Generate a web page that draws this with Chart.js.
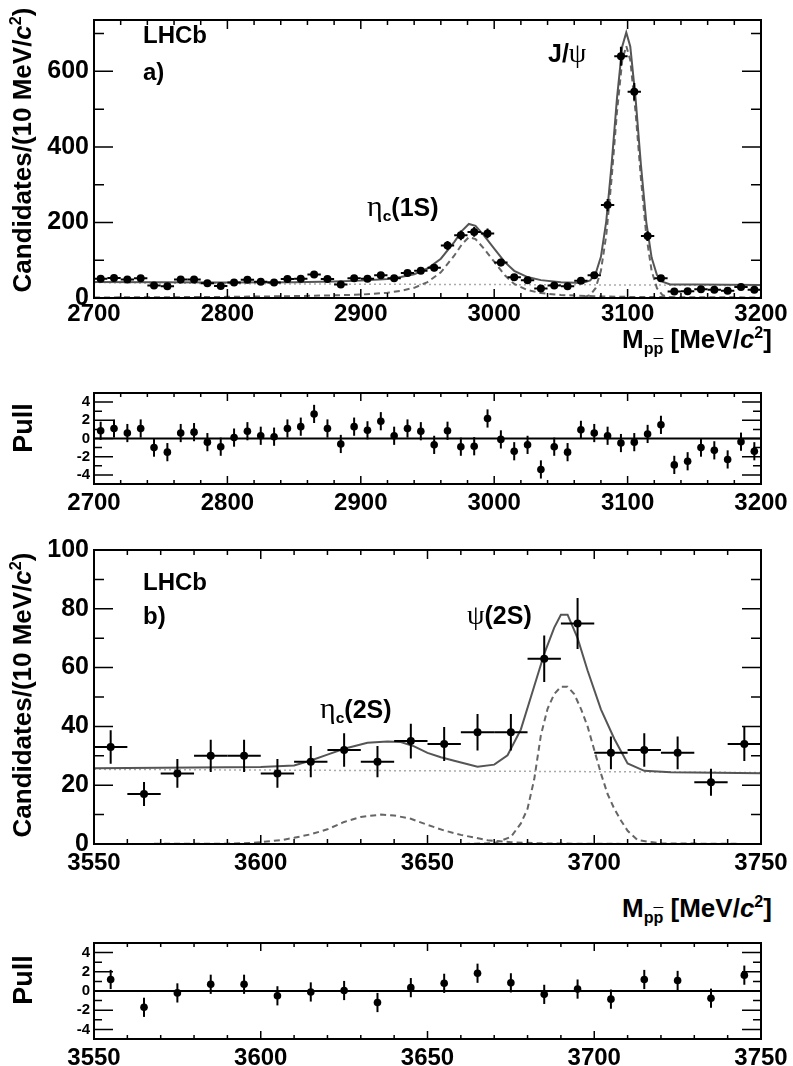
<!DOCTYPE html>
<html>
<head>
<meta charset="UTF-8">
<title>LHCb p pbar mass spectra</title>
<script src="https://cdn.jsdelivr.net/npm/chart.js"></script>
<style>
    body { margin: 0; background: #fff; width: 793px; height: 1066px; position: relative; overflow: hidden;
           font-family: "Liberation Sans", Arial, Helvetica, sans-serif; }
    canvas { position: absolute; left: 0; }
    .t { position: absolute; font-weight: bold; color: #000; white-space: nowrap; line-height: 1; }
    .rot { transform: translate(-50%, -50%) rotate(-90deg); }
    .g { font-family: "Liberation Serif", "DejaVu Serif", serif; font-weight: normal; }
    sub { font-size: 0.62em; vertical-align: -0.35em; line-height: 0; }
    sup { font-size: 0.62em; vertical-align: 0.6em; line-height: 0; }
    .ov { text-decoration: overline; }
</style>
</head>
<body>
    <canvas id="mainA" width="793" height="330" style="top:0px"></canvas>
    <canvas id="pullA" width="793" height="135" style="top:380px"></canvas>
    <canvas id="mainB" width="793" height="345" style="top:530px"></canvas>
    <canvas id="pullB" width="793" height="136" style="top:930px"></canvas>

    <!-- axis titles -->
    <div class="t rot" style="left:22px; top:150px; font-size:26px">Candidates/(10 MeV/<i>c</i><sup>2</sup>)</div>
    <div class="t rot" style="left:23px; top:428px; font-size:27px">Pull</div>
    <div class="t rot" style="left:22px; top:695px; font-size:26px">Candidates/(10 MeV/<i>c</i><sup>2</sup>)</div>
    <div class="t rot" style="left:23px; top:980px; font-size:27px">Pull</div>
    <div class="t" style="right:21px; top:326px; font-size:26px">M<sub>p<span class="ov">p</span></sub> [MeV/<i>c</i><sup>2</sup>]</div>
    <div class="t" style="right:21px; top:895px; font-size:26px">M<sub>p<span class="ov">p</span></sub> [MeV/<i>c</i><sup>2</sup>]</div>

    <!-- panel labels -->
    <div class="t" style="left:143px; top:23px; font-size:24px">LHCb</div>
    <div class="t" style="left:143px; top:60px; font-size:24px">a)</div>
    <div class="t" style="left:367px; top:191px; font-size:25px"><span class="g" style="font-size:30px">&eta;</span><sub>c</sub>(1S)</div>
    <div class="t" style="left:548px; top:39px; font-size:25px">J/<span class="g" style="font-size:28px">&psi;</span></div>
    <div class="t" style="left:143px; top:570px; font-size:24px">LHCb</div>
    <div class="t" style="left:143px; top:604px; font-size:24px">b)</div>
    <div class="t" style="left:320px; top:693px; font-size:25px"><span class="g" style="font-size:30px">&eta;</span><sub>c</sub>(2S)</div>
    <div class="t" style="left:467px; top:601px; font-size:25px"><span class="g" style="font-size:28px">&psi;</span>(2S)</div>

<script>
    // ---- panel a) : 2700-3200 MeV, 10 MeV bins ----
    const massA = [2705, 2715, 2725, 2735, 2745, 2755, 2765, 2775, 2785, 2795,
                   2805, 2815, 2825, 2835, 2845, 2855, 2865, 2875, 2885, 2895,
                   2905, 2915, 2925, 2935, 2945, 2955, 2965, 2975, 2985, 2995,
                   3005, 3015, 3025, 3035, 3045, 3055, 3065, 3075, 3085, 3095,
                   3105, 3115, 3125, 3135, 3145, 3155, 3165, 3175, 3185, 3195];
    const countsA = [51, 53, 49, 52, 33, 31, 49, 49, 39, 32,
                     41, 48, 43, 41, 50, 51, 62, 50, 36, 52,
                     51, 60, 52, 66, 72, 80, 139, 166, 175, 171,
                     94, 55, 47, 25, 33, 31, 46, 60, 246, 640,
                     546, 164, 52, 17, 18, 23, 22, 19, 29, 22];
    const errA = [7, 7, 7, 7, 6, 6, 7, 7, 6, 6,
                  6, 7, 7, 6, 7, 7, 8, 7, 6, 7,
                  7, 8, 7, 8, 8, 9, 12, 13, 13, 13,
                  10, 7, 7, 5, 6, 6, 7, 8, 16, 25,
                  23, 13, 7, 4, 4, 5, 5, 4, 5, 5];
    const pullA = [0.85, 1.1, 0.6, 1.1, -1.0, -1.5, 0.6, 0.7, -0.4, -0.9,
                   0.1, 0.8, 0.3, 0.2, 1.1, 1.3, 2.7, 1.1, -0.6, 1.3,
                   0.9, 1.9, 0.3, 1.1, 0.8, -0.7, 0.85, -0.9, -0.85, 2.2,
                   -0.1, -1.4, -0.7, -3.4, -0.9, -1.5, 0.95, 0.6, 0.3, -0.5,
                   -0.4, 0.5, 1.5, -2.9, -2.5, -1.0, -1.3, -2.3, -0.35, -1.4];

    // fit curves
    const bkgAx = [2700, 2800, 2900, 3000, 3100, 3200];
    const bkgAy = [41, 38, 36.5, 35.5, 34.5, 33];
    const etac1Sx = [2700, 2750, 2800, 2850, 2880, 2900, 2920, 2930, 2940, 2950, 2960, 2970, 2976, 2981,
                     2986, 2992, 3000, 3008, 3015, 3025, 3035, 3050, 3075, 3100, 3150, 3200];
    const etac1Sy = [1.5, 2, 3, 5, 7, 9, 14, 19, 27, 42, 68, 112, 143, 161,
                     156, 132, 96, 60, 37, 21, 13, 8, 4.5, 3, 2, 1.5];
    const jpsiX = [2700, 3050, 3066, 3072, 3076, 3080, 3084, 3088, 3092, 3096, 3099, 3102, 3106,
                   3110, 3114, 3118, 3122, 3126, 3132, 3150, 3200];
    const jpsiY = [0, 0, 0.5, 8, 26, 72, 166, 316, 491, 630, 667, 630, 491,
                   316, 166, 72, 26, 8, 0.5, 0, 0];
    const totalAx = [2700, 2750, 2800, 2850, 2880, 2900, 2920, 2930, 2940, 2950, 2960, 2970, 2976, 2981,
                     2986, 2992, 3000, 3008, 3015, 3025, 3035, 3050, 3066, 3072, 3076, 3080, 3084, 3088,
                     3092, 3096, 3099, 3102, 3106, 3110, 3114, 3118, 3122, 3126, 3132, 3150, 3200];
    const totalAy = [42.5, 41.5, 41, 42, 44, 46, 50.6, 55.4, 63, 78, 104, 148, 178.5, 196,
                     191, 167, 131, 95, 72, 55.5, 47.3, 42, 39.5, 46.4, 64, 109, 203, 353,
                     527, 666, 703, 666, 527, 352, 201, 107, 61, 43, 36, 35.5, 34.5];

    // ---- panel b) : 3550-3750 MeV ----
    const massB = [3555, 3565, 3575, 3585, 3595, 3605, 3615, 3625, 3635, 3645,
                   3655, 3665, 3675, 3685, 3695, 3705, 3715, 3725, 3735, 3745];
    const countsB = [33, 17, 24, 30, 30, 24, 28, 32, 28, 35,
                     34, 38, 38, 63, 75, 31, 32, 31, 21, 34];
    const errB = [5.7, 4.1, 4.9, 5.5, 5.5, 4.9, 5.3, 5.7, 5.3, 5.9,
                  5.8, 6.2, 6.2, 7.9, 8.7, 5.6, 5.7, 5.6, 4.6, 5.8];
    const pullB = [1.2, -1.7, -0.2, 0.7, 0.7, -0.5, -0.1, 0.05, -1.2, 0.35,
                   0.8, 1.85, 0.85, -0.35, 0.2, -0.85, 1.2, 1.1, -0.75, 1.65];

    const bkgBx = [3550, 3650, 3750];
    const bkgBy = [25.4, 24.9, 24.3];
    const etac2Sx = [3550, 3590, 3598, 3606, 3610, 3615, 3620, 3625, 3630, 3636, 3640, 3645, 3650,
                     3655, 3660, 3668, 3675, 3685, 3700, 3750];
    const etac2Sy = [0, 0.1, 0.4, 1.3, 2.1, 3.3, 5, 7.5, 9.2, 10, 9.7, 8.6, 6.5,
                     4.6, 3.1, 1.3, 0.6, 0.2, 0.05, 0];
    const psi2Sx = [3550, 3660, 3670, 3675, 3678, 3680, 3682, 3684, 3686, 3688, 3690, 3692, 3694, 3696,
                    3698, 3700, 3702, 3704, 3706, 3708, 3710, 3713, 3720, 3750];
    const psi2Sy = [0, 0, 0.3, 2.4, 7, 12, 22, 37, 46, 51, 53.5, 53.5, 51, 46,
                    40, 32, 24, 17, 12, 8, 4.5, 1.3, 0.2, 0];
    const totalBx = [3550, 3580, 3600, 3610, 3615, 3620, 3625, 3632, 3638, 3642, 3646, 3650, 3654, 3658,
                     3665, 3670, 3674, 3678, 3681, 3685, 3688, 3690, 3692, 3695, 3698, 3702, 3706, 3710,
                     3715, 3723, 3750];
    const totalBy = [25.8, 26, 26.2, 26.7, 28.4, 30.4, 32.4, 34.4, 34.9, 34.7, 33.2, 31, 29.5, 28.3,
                     26.3, 27, 30.2, 39, 50, 64.7, 73.6, 78, 78, 70, 59, 45.8, 35.8, 27.4,
                     24.9, 24.4, 24.1];

    // ticks
    const xTicksA = [2700, 2800, 2900, 3000, 3100, 3200];
    const xMinorA = [2720, 2740, 2760, 2780, 2820, 2840, 2860, 2880, 2920, 2940, 2960, 2980,
                     3020, 3040, 3060, 3080, 3120, 3140, 3160, 3180];
    const yTicksA = [0, 200, 400, 600];
    const yMinorA = [100, 300, 500, 700];
    const xTicksB = [3550, 3600, 3650, 3700, 3750];
    const xMinorB = [3560, 3570, 3580, 3590, 3610, 3620, 3630, 3640, 3660, 3670, 3680, 3690,
                     3710, 3720, 3730, 3740];
    const yTicksB = [0, 20, 40, 60, 80, 100];
    const yMinorB = [10, 30, 50, 70, 90];
    const pullTicks = [-4, -2, 0, 2, 4];
    const pullMinor = [-3, -1, 1, 3];
    const PULL_ERR = 1;

    Chart.defaults.font.family = '"Liberation Sans", Arial, Helvetica, sans-serif';
    Chart.defaults.color = '#000';

    const xy = (xs, ys) => xs.map((v, i) => ({ x: v, y: ys[i] }));

    function curve(xs, ys, color, dash, width) {
        return { type: 'line', data: xy(xs, ys), borderColor: color, borderWidth: width,
                 borderDash: dash, pointRadius: 0, fill: false, tension: 0 };
    }

    function points(xs, ys, errs, halfW, r) {
        return { type: 'scatter', data: xy(xs, ys), errY: errs, halfW: halfW,
                 pointRadius: r, pointBackgroundColor: '#000', pointBorderWidth: 0 };
    }

    // error bars drawn with the chart scales
    const errorBars = {
        id: 'errorBars',
        afterDatasetsDraw(chart) {
            const { ctx, scales: { x, y } } = chart;
            chart.data.datasets.forEach(ds => {
                if (!ds.errY) return;
                ctx.save();
                ctx.strokeStyle = '#000';
                ctx.lineWidth = 2;
                ds.data.forEach((p, i) => {
                    const e = Array.isArray(ds.errY) ? ds.errY[i] : ds.errY;
                    const px = x.getPixelForValue(p.x);
                    const py = y.getPixelForValue(p.y);
                    ctx.beginPath();
                    ctx.moveTo(px, y.getPixelForValue(p.y - e));
                    ctx.lineTo(px, y.getPixelForValue(p.y + e));
                    if (ds.halfW) {
                        ctx.moveTo(x.getPixelForValue(p.x - ds.halfW), py);
                        ctx.lineTo(x.getPixelForValue(p.x + ds.halfW), py);
                    }
                    ctx.stroke();
                });
                ctx.restore();
            });
        }
    };

    // ROOT style frame with inward ticks
    const rootFrame = {
        id: 'rootFrame',
        afterDatasetsDraw(chart, args, o) {
            const { ctx, chartArea: a, scales: { x, y } } = chart;
            ctx.save();
            ctx.strokeStyle = '#000';
            if (o.zeroLine) {
                ctx.lineWidth = 2;
                const pz = y.getPixelForValue(0);
                ctx.beginPath(); ctx.moveTo(a.left, pz); ctx.lineTo(a.right, pz); ctx.stroke();
            }
            ctx.lineWidth = 1.5;
            ctx.beginPath();
            const xt = (vals, len) => vals.forEach(v => {
                const px = x.getPixelForValue(v);
                ctx.moveTo(px, a.bottom); ctx.lineTo(px, a.bottom - len);
                ctx.moveTo(px, a.top); ctx.lineTo(px, a.top + len);
            });
            const yt = (vals, len) => vals.forEach(v => {
                const py = y.getPixelForValue(v);
                ctx.moveTo(a.left, py); ctx.lineTo(a.left + len, py);
                ctx.moveTo(a.right, py); ctx.lineTo(a.right - len, py);
            });
            xt(o.xMajor, o.xMajLen); xt(o.xMinor, o.xMinLen);
            yt(o.yMajor, o.yMajLen); yt(o.yMinor, o.yMinLen);
            ctx.stroke();
            ctx.lineWidth = 2;
            ctx.strokeRect(a.left, a.top, a.right - a.left, a.bottom - a.top);
            ctx.restore();
        }
    };

    function panel(id, c) {
        return new Chart(document.getElementById(id), {
            type: 'scatter',
            data: { datasets: c.datasets },
            options: {
                responsive: false,
                animation: false,
                layout: { padding: { left: 0, right: 32, top: c.padTop, bottom: 0 } },
                plugins: { legend: { display: false }, tooltip: { enabled: false }, rootFrame: c.frame },
                scales: {
                    x: {
                        type: 'linear', min: c.xMin, max: c.xMax,
                        grid: { display: false, drawTicks: false }, border: { display: false },
                        afterBuildTicks: s => { s.ticks = c.frame.xMajor.map(v => ({ value: v })); },
                        afterFit: s => { s.height = c.xAxisH; },
                        ticks: { font: { size: 24, weight: 'bold' }, padding: c.xPad, autoSkip: false,
                                 maxRotation: 0, callback: v => String(v) }
                    },
                    y: {
                        min: c.yMin, max: c.yMax,
                        grid: { display: false, drawTicks: false }, border: { display: false },
                        afterBuildTicks: s => { s.ticks = c.frame.yMajor.map(v => ({ value: v })); },
                        afterFit: s => { s.width = 94; },
                        ticks: { font: { size: c.yFont, weight: 'bold' }, padding: c.yPad,
                                 callback: v => String(v) }
                    }
                }
            },
            plugins: [errorBars, rootFrame]
        });
    }

    const solid = '#555555', dashed = '#666666', dotted = '#aaaaaa';

    panel('mainA', {
        xMin: 2700, xMax: 3200, yMin: 0, yMax: 736, padTop: 2, xAxisH: 32, xPad: 2, yFont: 25, yPad: 5,
        frame: { xMajor: xTicksA, xMinor: xMinorA, yMajor: yTicksA, yMinor: yMinorA,
                 xMajLen: 9, xMinLen: 5, yMajLen: 19, yMinLen: 10 },
        datasets: [
            points(massA, countsA, errA, 5, 4),
            curve(totalAx, totalAy, solid, [], 2),
            curve(jpsiX, jpsiY, dashed, [6, 4], 2),
            curve(etac1Sx, etac1Sy, dashed, [6, 4], 2),
            curve(bkgAx, bkgAy, dotted, [2, 3], 1.5)
        ]
    });

    panel('pullA', {
        xMin: 2700, xMax: 3200, yMin: -5, yMax: 5, padTop: 6, xAxisH: 31, xPad: 5, yFont: 15, yPad: 4,
        frame: { xMajor: xTicksA, xMinor: xMinorA, yMajor: pullTicks, yMinor: pullMinor,
                 xMajLen: 8, xMinLen: 4, yMajLen: 19, yMinLen: 8, zeroLine: true },
        datasets: [ points(massA, pullA, PULL_ERR, 0, 3.8) ]
    });

    panel('mainB', {
        xMin: 3550, xMax: 3750, yMin: 0, yMax: 100, padTop: 16, xAxisH: 31, xPad: 5, yFont: 25, yPad: 5,
        frame: { xMajor: xTicksB, xMinor: xMinorB, yMajor: yTicksB, yMinor: yMinorB,
                 xMajLen: 9, xMinLen: 5, yMajLen: 19, yMinLen: 10 },
        datasets: [
            points(massB, countsB, errB, 5, 4),
            curve(totalBx, totalBy, solid, [], 2),
            curve(psi2Sx, psi2Sy, dashed, [6, 4], 2),
            curve(etac2Sx, etac2Sy, dashed, [6, 4], 2),
            curve(bkgBx, bkgBy, dotted, [2, 3], 1.5)
        ]
    });

    panel('pullB', {
        xMin: 3550, xMax: 3750, yMin: -5, yMax: 5, padTop: 12, xAxisH: 27, xPad: 5, yFont: 15, yPad: 4,
        frame: { xMajor: xTicksB, xMinor: xMinorB, yMajor: pullTicks, yMinor: pullMinor,
                 xMajLen: 8, xMinLen: 4, yMajLen: 19, yMinLen: 8, zeroLine: true },
        datasets: [ points(massB, pullB, PULL_ERR, 0, 3.8) ]
    });
</script>
</body>
</html>
